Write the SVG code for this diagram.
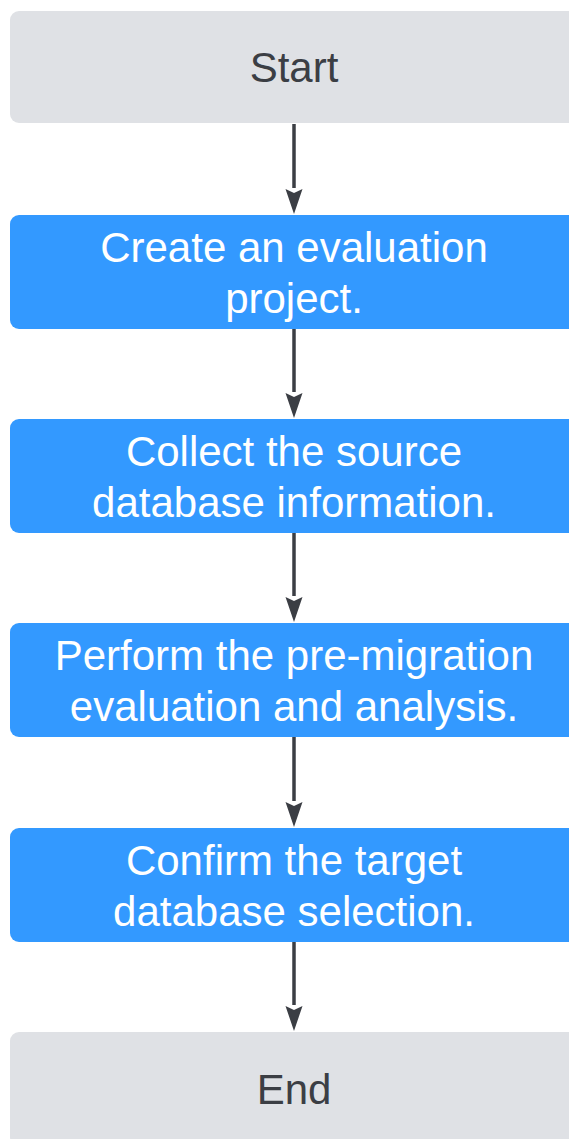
<svg xmlns="http://www.w3.org/2000/svg" width="569" height="1139" viewBox="0 0 569 1139">
<defs>
<style>
.term{fill:#dfe1e5;}
.step{fill:#3399ff;}
.t{font-family:"Liberation Sans",Arial,sans-serif;font-size:42px;text-anchor:middle;}
.tg{fill:#3b3e44;}
.tw{fill:#ffffff;}
.c{stroke:#3b3e44;stroke-width:3.5;fill:none;}
</style>
<marker id="ah" markerUnits="userSpaceOnUse" markerWidth="18" markerHeight="26" refX="9" refY="26" orient="auto-start-reverse" viewBox="0 0 18 26">
<path d="M0,0 L9,4 L18,0 L9,26 Z" fill="#3b3e44" transform="rotate(0)"/>
</marker>
</defs>
<rect width="569" height="1139" fill="#ffffff"/>
<g id="connectors">
<line class="c" x1="294" y1="124" x2="294" y2="188"/>
<path d="M285.5,189 L294,193 L302.5,189 L294,214 Z" fill="#3b3e44"/>
<line class="c" x1="294" y1="328" x2="294" y2="392"/>
<path d="M285.5,393 L294,397 L302.5,393 L294,418 Z" fill="#3b3e44"/>
<line class="c" x1="294" y1="532" x2="294" y2="596"/>
<path d="M285.5,597 L294,601 L302.5,597 L294,622 Z" fill="#3b3e44"/>
<line class="c" x1="294" y1="736" x2="294" y2="801"/>
<path d="M285.5,802 L294,806 L302.5,802 L294,827 Z" fill="#3b3e44"/>
<line class="c" x1="294" y1="941" x2="294" y2="1005"/>
<path d="M285.5,1006 L294,1010 L302.5,1006 L294,1031 Z" fill="#3b3e44"/>
</g>
<g id="start">
<rect class="term" x="10" y="11" width="568" height="112" rx="9"/>
<text class="t tg" x="294" y="82">Start</text>
</g>
<g id="create">
<rect class="step" x="10" y="215" width="568" height="114" rx="9"/>
<text class="t tw" x="294" y="262">Create an evaluation</text>
<text class="t tw" x="294" y="313">project.</text>
</g>
<g id="collect">
<rect class="step" x="10" y="419" width="568" height="114" rx="9"/>
<text class="t tw" x="294" y="466">Collect the source</text>
<text class="t tw" x="294" y="517">database information.</text>
</g>
<g id="perform">
<rect class="step" x="10" y="623" width="568" height="114" rx="9"/>
<text class="t tw" x="294" y="670">Perform the pre-migration</text>
<text class="t tw" x="294" y="721">evaluation and analysis.</text>
</g>
<g id="confirm">
<rect class="step" x="10" y="828" width="568" height="114" rx="9"/>
<text class="t tw" x="294" y="875">Confirm the target</text>
<text class="t tw" x="294" y="926">database selection.</text>
</g>
<g id="end">
<rect class="term" x="10" y="1032" width="568" height="114" rx="9"/>
<text class="t tg" x="294" y="1104">End</text>
</g>
</svg>
